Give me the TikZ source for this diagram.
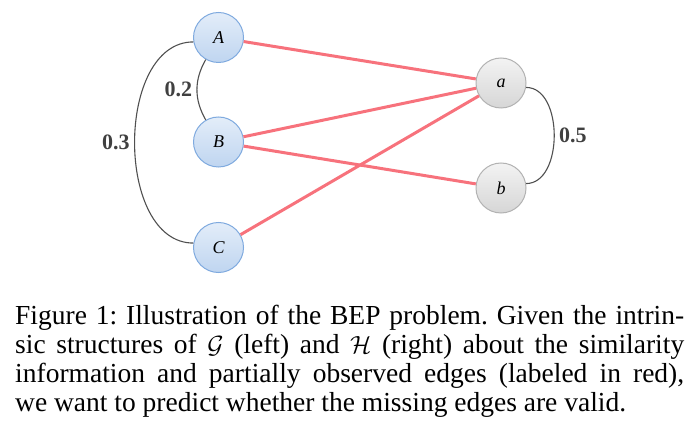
\documentclass[tikz,border=0pt]{standalone}
\usepackage{fontspec}
\setmainfont{Liberation Serif}
\usepackage{xcolor}
\usepackage{tikz}
\usepackage{amsfonts}

\definecolor{edgered}{HTML}{F7727C}
\definecolor{gblue}{HTML}{BFD5F0}
\definecolor{gbluelight}{HTML}{E3EDF9}
\definecolor{gblueline}{HTML}{7FAADF}
\definecolor{hgray}{HTML}{D6D6D6}
\definecolor{hgraylight}{HTML}{F3F3F3}
\definecolor{hgrayline}{HTML}{B2B2B2}
\definecolor{simgray}{HTML}{505050}

\begin{document}
\begin{tikzpicture}[x=1pt,y=1pt,
    every node/.style={align=center},
    gnode/.style={shape=circle,draw=gblueline,line width=1pt,top color=gbluelight,bottom color=gblue,minimum size=50pt,inner sep=0pt,font=\fontsize{18}{20}\selectfont\itshape},
    hnode/.style={shape=circle,draw=hgrayline,line width=1pt,top color=hgraylight,bottom color=hgray,minimum size=50pt,inner sep=0pt,font=\fontsize{18}{20}\selectfont\itshape},
    obs/.style={draw=edgered,line width=3pt},
    sim/.style={draw=simgray,line width=1.1pt},
    weight/.style={font=\fontsize{22}{24}\selectfont\bfseries,text=black!75}]
  \useasboundingbox (0,0) rectangle (700,442);

  % graph G (left)
  \node[gnode] (A) at (218.5,404.5) {A};
  \node[gnode] (B) at (218.5,300) {B};
  \node[gnode] (C) at (218.5,194.5) {C};

  % graph H (right)
  \node[hnode] (a) at (501,359) {a};
  \node[hnode] (b) at (501,254) {b};

  % observed edges
  \draw[obs] (A) -- (a);
  \draw[obs] (B) -- (a);
  \draw[obs] (C) -- (a);
  \draw[obs] (B) -- (b);

  % similarity
  \draw[sim] (A.240) to[out=240,in=120] node[weight,left=1pt] {0.2} (B.120);
  \draw[sim] (A.190) to[out=180,in=180] node[weight,left=1pt] {0.3} (C.170);
  \draw[sim] (a.-10) to[out=0,in=0] node[weight,right=1pt] {0.5} (b.10);

  \node[anchor=base west,inner sep=0pt,text width=669pt,align=justify,
        font=\fontsize{27.5}{29.2}\selectfont\frenchspacing] (cap) at (15,118)
    {Figure 1: Illustration of the BEP problem. Given the intrin-\linebreak
     sic structures of $\mathcal{G}$ (left) and $\mathcal{H}$ (right) about the similarity\linebreak
     information and partially observed edges (labeled in red),\linebreak
     we want to predict whether the missing edges are valid.};
\end{tikzpicture}
\end{document}
